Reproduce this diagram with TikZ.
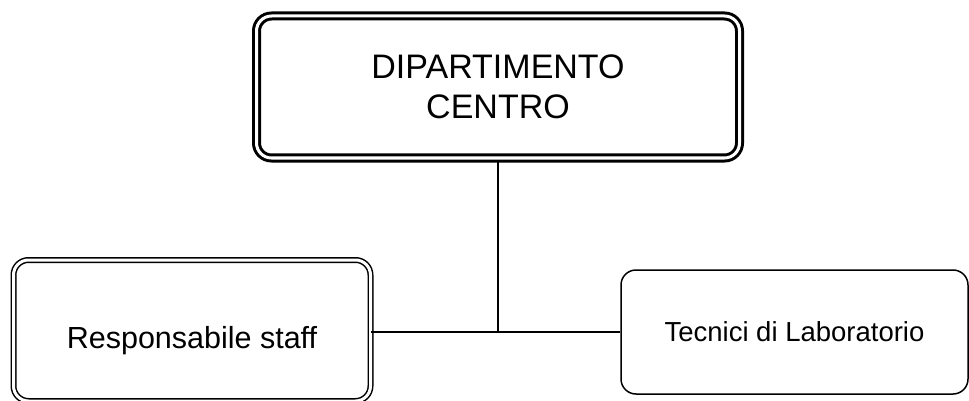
\documentclass[tikz,border=0pt]{standalone}
\usepackage{fontspec}
\setmainfont{Liberation Sans}

\begin{document}
\begin{tikzpicture}[x = 1pt, y = -1pt,
    box/.style = {draw, rounded corners = 15pt, inner sep = 0pt, align = center},
    doublebox/.style = {box, double, double distance = 3pt}]
    \useasboundingbox (0, 0) rectangle (969, 401);

    \node[doublebox, line width = 3pt, minimum width = 483pt, minimum height = 142pt,
        font = \fontsize{34}{40}\selectfont] (dept) at (498, 87) {DIPARTIMENTO \\ CENTRO};

    \node[doublebox, line width = 1.5pt, minimum width = 357pt, minimum height = 141pt,
        font = \fontsize{30.5}{36}\selectfont, text height = 36pt, text depth = 0pt]
        (staff) at (192, 330.5) {Responsabile staff};

    \node[box, line width = 1.5pt, minimum width = 347pt, minimum height = 124pt,
        font = \fontsize{27.5}{32}\selectfont] (tecnici) at (794.5, 332) {Tecnici di Laboratorio};

    \draw[line width = 1.6pt] (dept.south) -- (dept.south |- tecnici.west);
    \draw[line width = 1.6pt] (tecnici.west) -- (tecnici.west -| staff.east);

\end{tikzpicture}
\end{document}
